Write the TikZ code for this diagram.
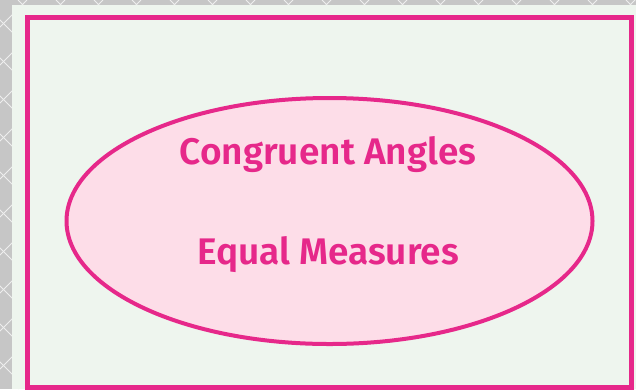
\documentclass[tikz,border=0pt]{standalone}
\usepackage{fontspec}
\setmainfont{Fira Sans}[BoldFont={Fira Sans SemiBold}]
\definecolor{hotpink}{HTML}{E6288A}
\definecolor{blush}{HTML}{FDDDE8}
\definecolor{mintbg}{HTML}{EEF5EE}
\definecolor{greyback}{HTML}{C6C6C6}
\tikzset{
  frame/.style={draw=hotpink, line width=5pt, fill=mintbg},
  bubble/.style={draw=hotpink, line width=4pt, fill=blush},
  title/.style={text=hotpink, font=\fontsize{37}{40}\selectfont\bfseries}
}
\begin{document}
\begin{tikzpicture}[x=1pt,y=-1pt]
  % backdrop with lattice
  \fill[greyback] (0,0) rectangle (636,389);
  \begin{scope}
    \clip (0,0) rectangle (636,389);
    \foreach \k in {-400,-362,...,700}
      {\draw[white!70!greyback, line width=1pt] (\k,0) -- (\k+389,389);
       \draw[white!70!greyback, line width=1pt] (\k,389) -- (\k+389,0);}
  \end{scope}
  \fill[mintbg] (12,5) rectangle (636,389);
  \useasboundingbox (0,0) rectangle (636,389);

  % outer frame
  \draw[frame] (27,17.5) rectangle (631.5,387);

  % central ellipse
  \coordinate (centre) at (329.5,221);
  \draw[bubble] (centre) ellipse [x radius=263, y radius=123];

  % labels
  \node[title] (angles) at (328,155) {Congruent Angles};
  \node[title] (measures) at (328,255) {Equal Measures};
\end{tikzpicture}
\end{document}
